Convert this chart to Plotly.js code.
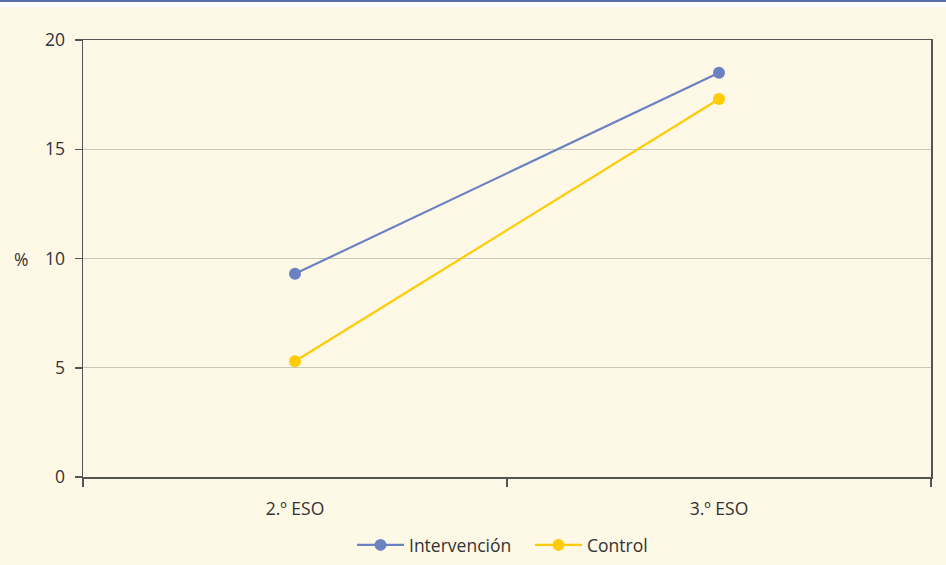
<!DOCTYPE html>
<html>
<head>
<meta charset="utf-8">
<script src="https://cdn.plot.ly/plotly-3.0.1.min.js"></script>
<style>html,body{margin:0;padding:0;background:#FEF8E6;}#chart{width:946px;height:565px;}</style>
</head>
<body>
<div id="chart"></div>
<script>
const categories = ["2.º ESO", "3.º ESO"];
const intervencion = [9.3, 18.5];
const control = [5.3, 17.3];
const seriesNames = ["Intervención", "Control"];
const yTicks = [0, 5, 10, 15, 20];

const L = 83, R = 15, T = 40, B = 88;
const W = 946, H = 565;
const pw = W - L - R, ph = H - T - B;

const traces = [
  {x: categories, y: intervencion, name: seriesNames[0], type: 'scatter', mode: 'lines+markers',
   line: {color: '#6B82C2', width: 2.2}, marker: {color: '#6B82C2', size: 12}},
  {x: categories, y: control, name: seriesNames[1], type: 'scatter', mode: 'lines+markers',
   line: {color: '#FFCB05', width: 2.2}, marker: {color: '#FFCB05', size: 12}}
];

const layout = {
  width: W, height: H,
  margin: {l: L, r: R, t: T, b: B, autoexpand: false},
  paper_bgcolor: '#FEF8E6', plot_bgcolor: '#FEF8E6',
  font: {family: 'Open Sans, Noto Sans, sans-serif', size: 17.5, color: '#333333'},
  showlegend: true,
  legend: {orientation: 'h', xref: 'container', yref: 'container', x: 352 / W, xanchor: 'left',
           y: 20 / H, yanchor: 'middle', itemwidth: 47, entrywidth: 116,
           font: {size: 17.5, color: '#333333'}, bgcolor: 'rgba(0,0,0,0)'},
  xaxis: {type: 'category', tickson: 'boundaries', ticks: 'outside', ticklen: 8, tickwidth: 1.5,
          tickcolor: '#555555', showline: true, linecolor: '#555555', linewidth: 1.5, mirror: true,
          showgrid: false, zeroline: false, range: [-0.5, 1.5], fixedrange: true,
          ticklabelstandoff: 15, automargin: false},
  yaxis: {range: [0, 20], tickvals: yTicks, ticks: 'outside', ticklen: 7, tickwidth: 1.5,
          tickcolor: '#555555', showline: true, linecolor: '#555555', linewidth: 1.5, mirror: true,
          showgrid: true, gridcolor: '#C9C7BE', gridwidth: 1.2, zeroline: false,
          ticklabelstandoff: 6, automargin: false},
  annotations: [{text: '%', xref: 'paper', yref: 'y', x: -71 / pw, y: 10, xanchor: 'left',
                 yanchor: 'middle', showarrow: false, font: {size: 17.5, color: '#333333'}}],
  shapes: [
    {type: 'rect', xref: 'paper', yref: 'paper', x0: -L / pw, x1: 1 + R / pw,
     y0: 1 + (T - 7) / ph, y1: 1 + (T - 2) / ph, fillcolor: '#FFFFFF', line: {width: 0}},
    {type: 'rect', xref: 'paper', yref: 'paper', x0: -L / pw, x1: 1 + R / pw,
     y0: 1 + (T - 2) / ph, y1: 1 + T / ph, fillcolor: '#5B6FAE', line: {width: 0}}
  ]
};

Plotly.newPlot('chart', traces, layout, {displayModeBar: false, staticPlot: true});
</script>
</body>
</html>
